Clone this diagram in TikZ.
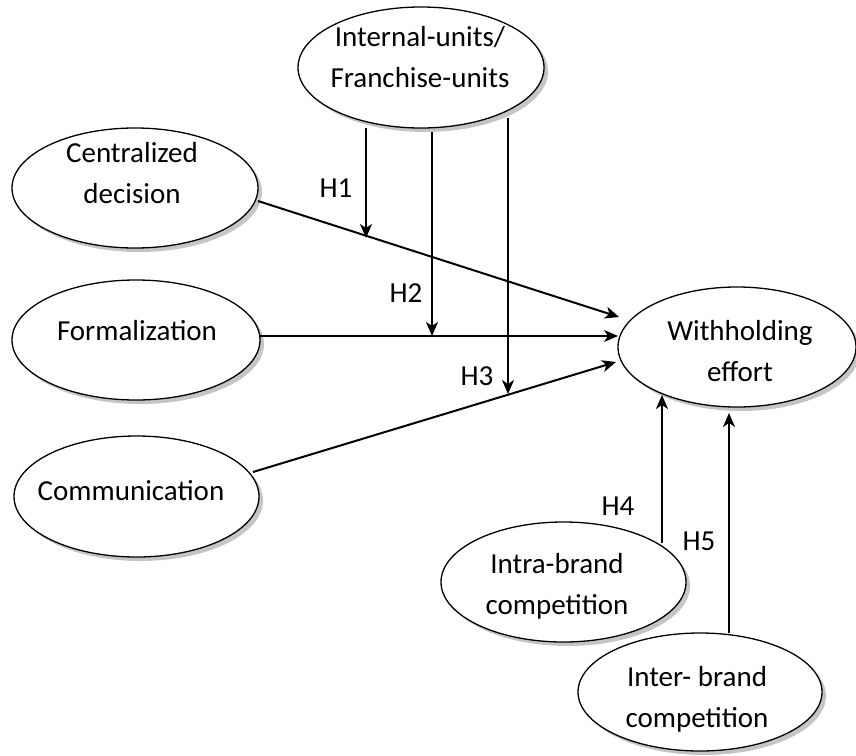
\documentclass[tikz,border=0pt]{standalone}
\usepackage{fontspec}
\setmainfont{Carlito}
\usetikzlibrary{shapes.geometric,shadows,arrows.meta}
\begin{document}
\begin{tikzpicture}[x=1pt,y=-1pt,
  ell/.style={ellipse, draw, line width=1.3pt, fill=white, inner sep=0pt,
    drop shadow={shadow xshift=4pt, shadow yshift=-4pt, fill=black!45}},
  txt/.style={font=\fontsize{29}{41}\selectfont, align=center, anchor=base, inner sep=0pt},
  conn/.style={line width=2pt, -{Stealth[length=14pt,width=12pt,inset=4pt]}},
]
\useasboundingbox (0,0) rectangle (856,755);

% ellipses
\node[ell, minimum width=246pt, minimum height=121pt] (intu) at (421,67.5) {};
\node[ell, minimum width=246pt, minimum height=120pt] (cent) at (135,188) {};
\node[ell, minimum width=248pt, minimum height=120pt] (form) at (136,340) {};
\node[ell, minimum width=245pt, minimum height=121pt] (comm) at (136.5,496.5) {};
\node[ell, minimum width=238pt, minimum height=120pt] (with) at (737,347) {};
\node[ell, minimum width=245pt, minimum height=120pt] (intra) at (563.5,582) {};
\node[ell, minimum width=244pt, minimum height=118pt] (inter) at (700,692) {};

% texts (base anchor = baseline of the last line)
\node[txt] (intu-t) at (420,87) {Internal-units/\\Franchise-units};
\node[txt] (cent-t) at (132,203) {Centralized\\decision};
\node[txt] (form-t) at (137,340) {Formalization};
\node[txt] (comm-t) at (131,500) {Communication};
\node[txt] (with-t) at (740,381) {Withholding\\effort};
\node[txt] (intra-t) at (557,614) {Intra-brand\\competition};
\node[txt] (inter-t) at (697,727) {Inter- brand\\competition};

% connector end points
\coordinate (c-s) at (258,201);
\coordinate (c-e) at (619,317);
\coordinate (f-s) at (260,336);
\coordinate (f-e) at (618,336);
\coordinate (m-s) at (253,472);
\coordinate (m-e) at (616,362);
\coordinate (h1-s) at (366,128);
\coordinate (h1-e) at (366,238);
\coordinate (h2-s) at (432,132);
\coordinate (h2-e) at (432,336);
\coordinate (h3-s) at (508,118);
\coordinate (h3-e) at (508,394);
\coordinate (h4-s) at (662,543);
\coordinate (h4-e) at (662,395);
\coordinate (h5-s) at (729,633);
\coordinate (h5-e) at (729,413);

\draw[conn] (c-s) -- (c-e);
\draw[conn] (f-s) -- (f-e);
\draw[conn] (m-s) -- (m-e);
\draw[conn] (h1-s) -- (h1-e);
\draw[conn] (h2-s) -- (h2-e);
\draw[conn] (h3-s) -- (h3-e);
\draw[conn] (h4-s) -- (h4-e);
\draw[conn] (h5-s) -- (h5-e);

% hypothesis labels
\node[txt] (H1) at (336,197) {H1};
\node[txt] (H2) at (406,302) {H2};
\node[txt] (H3) at (477,385) {H3};
\node[txt] (H4) at (618,515) {H4};
\node[txt] (H5) at (699,550) {H5};
\end{tikzpicture}
\end{document}
